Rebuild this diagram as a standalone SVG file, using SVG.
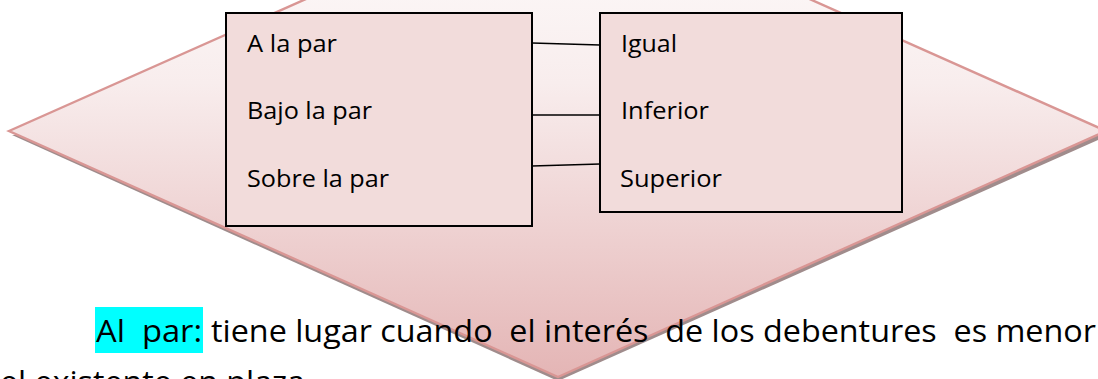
<svg xmlns="http://www.w3.org/2000/svg" width="1098" height="379" viewBox="0 0 1098 379">
<style>
.box{fill:#f2dcdb;stroke:#000;stroke-width:2}
.c{stroke:#000;stroke-width:1.6;fill:none}
text{font-family:"Open Sans","Noto Sans","Liberation Sans",sans-serif;fill:#000}
.s{font-size:23px}
.b{font-size:31px}
</style>
<defs>
<linearGradient id="g" gradientUnits="userSpaceOnUse" x1="0" y1="-113" x2="0" y2="377">
<stop offset="0" stop-color="#ffffff"/><stop offset="0.4" stop-color="#f8eded"/><stop offset="1" stop-color="#e4b5b5"/>
</linearGradient>
</defs>
<rect width="1098" height="379" fill="#fff"/>
<g id="diamond">
<polygon points="12,135 558,381 1107,136" fill="#a08c8c"/>
<polygon points="9,131 558,-113 1106,131 558,377" fill="url(#g)" stroke="#d99694" stroke-width="2.4"/>
</g>
<g id="node-left">
<rect class="box" x="226" y="13" width="306" height="213"/>
<text class="s" x="247" y="52" textLength="90" lengthAdjust="spacingAndGlyphs">A la par</text>
<text class="s" x="247" y="119" textLength="125" lengthAdjust="spacingAndGlyphs">Bajo la par</text>
<text class="s" x="247" y="187" textLength="142" lengthAdjust="spacingAndGlyphs">Sobre la par</text>
</g>
<g id="node-right">
<rect class="box" x="600" y="13" width="302" height="199"/>
<text class="s" x="621" y="52" textLength="56" lengthAdjust="spacingAndGlyphs">Igual</text>
<text class="s" x="621" y="119" textLength="88" lengthAdjust="spacingAndGlyphs">Inferior</text>
<text class="s" x="620" y="187" textLength="102" lengthAdjust="spacingAndGlyphs">Superior</text>
</g>
<g id="connectors">
<line class="c" x1="532" y1="43" x2="600" y2="45"/>
<line class="c" x1="532" y1="115" x2="600" y2="115"/>
<line class="c" x1="532" y1="166" x2="600" y2="164"/>
</g>
<g id="body">
<rect x="95" y="307" width="108" height="46" fill="#00ffff"/>
<text class="b" x="96" y="342" textLength="106" lengthAdjust="spacingAndGlyphs" xml:space="preserve">Al  par:</text>
<text class="b" x="211" y="342" textLength="885" lengthAdjust="spacingAndGlyphs" xml:space="preserve">tiene lugar cuando  el interés  de los debentures  es menor</text>
<text class="b" x="0" y="393" textLength="305" lengthAdjust="spacingAndGlyphs">el existente en plaza</text>
</g>
</svg>
